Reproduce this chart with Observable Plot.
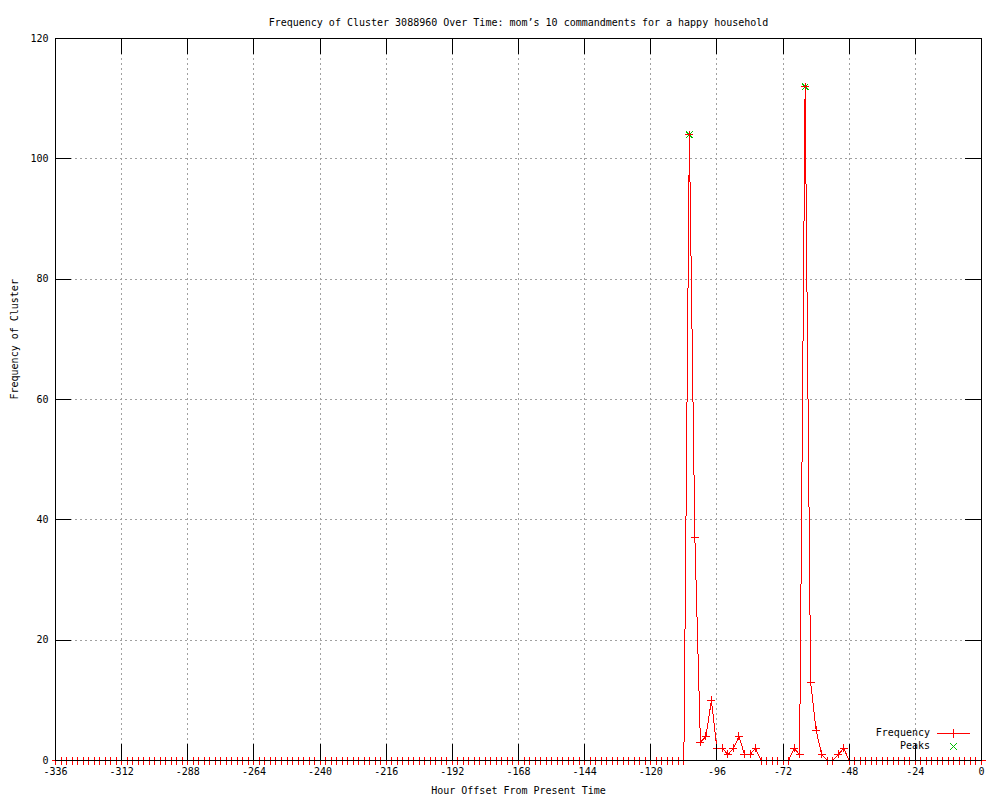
<!DOCTYPE html>
<html>
<head>
<meta charset="utf-8">
<script src="https://cdn.jsdelivr.net/npm/d3@7"></script>
<script src="https://cdn.jsdelivr.net/npm/@observablehq/plot@0.6"></script>
<style>
  html, body { margin: 0; padding: 0; background: #fff; }
</style>
</head>
<body>
<div id="chart"></div>
<script>
// ---- data ----
const titleText = "Frequency of Cluster 3088960 Over Time: mom’s 10 commandments for a happy household";
const xLabel = "Hour Offset From Present Time";
const yLabel = "Frequency of Cluster";
const seriesNames = ["Frequency", "Peaks"];

// hour offsets, every 2 hours from -336 to 0
const hours = d3.range(-336, 1, 2);
// frequency per 2-hour step (one row = 24 hours)
const frequency = [
  0,0,0,0,0,0,0,0,0,0,0,0,          // -336 .. -314
  0,0,0,0,0,0,0,0,0,0,0,0,          // -312 .. -290
  0,0,0,0,0,0,0,0,0,0,0,0,          // -288 .. -266
  0,0,0,0,0,0,0,0,0,0,0,0,          // -264 .. -242
  0,0,0,0,0,0,0,0,0,0,0,0,          // -240 .. -218
  0,0,0,0,0,0,0,0,0,0,0,0,          // -216 .. -194
  0,0,0,0,0,0,0,0,0,0,0,0,          // -192 .. -170
  0,0,0,0,0,0,0,0,0,0,0,0,          // -168 .. -146
  0,0,0,0,0,0,0,0,0,0,0,0,          // -144 .. -122
  0,0,0,0,0,0,0,104,37,3,4,10,      // -120 .. -98
  2,2,1,2,4,1,1,2,0,0,0,0,          // -96 .. -74
  0,0,2,1,112,13,5,1,0,0,1,2,       // -72 .. -50
  0,0,0,0,0,0,0,0,0,0,0,0,          // -48 .. -26
  0,0,0,0,0,0,0,0,0,0,0,0,          // -24 .. -2
  0                                 // 0
];
const peakHours = [-106, -64];
const peakValues = [104, 112];

const xTicks = [-336,-312,-288,-264,-240,-216,-192,-168,-144,-120,-96,-72,-48,-24,0];
const yTicks = [0,20,40,60,80,100,120];

// ---- tables ----
const data = hours.map((h, i) => ({h, v: frequency[i]}));
const peaks = peakHours.map((h, i) => ({h, v: peakValues[i]}));

// ---- styles ----
const W = 1000, H = 800;
const mL = 55, mR = 19, mT = 38, mB = 40;
const plotW = W - mL - mR, plotH = H - mT - mB;
const tickLen = 16;
const red = "#ff0000", green = "#00c000", gridColor = "#a0a0a0";

const plusSym = {draw(ctx, size) { const r = Math.sqrt(size / Math.PI);
  ctx.moveTo(-r, 0); ctx.lineTo(r, 0); ctx.moveTo(0, -r); ctx.lineTo(0, r); }};
const timesSym = {draw(ctx, size) { const r = Math.sqrt(size / Math.PI) * 0.8;
  ctx.moveTo(-r, -r); ctx.lineTo(r, r); ctx.moveTo(-r, r); ctx.lineTo(r, -r); }};

const innerX = xTicks.slice(1, -1);
const innerY = yTicks.slice(1, -1);

// legend drawn inside the frame, bottom-right (gnuplot style)
function legendMark(index, scales, values, dims) {
  const right = dims.width - dims.marginRight;
  const bottom = dims.height - dims.marginBottom;
  const g = d3.create("svg:g").attr("font-family", "'DejaVu Sans Mono', monospace").attr("font-size", 10);
  const rows = [
    {name: seriesNames[0], dy: -27, kind: "line", color: red},
    {name: seriesNames[1], dy: -14, kind: "times", color: green}
  ];
  for (const r of rows) {
    const y = bottom + r.dy;
    const cx = right - 28;
    g.append("text").attr("x", right - 51).attr("y", y).attr("dy", "0.32em")
      .attr("text-anchor", "end").attr("fill", "#000").text(r.name);
    if (r.kind === "line") {
      g.append("path").attr("d", `M${cx - 16},${y + 0.5}H${cx + 17}M${cx + 0.5},${y - 4}V${y + 5}`)
        .attr("stroke", r.color).attr("fill", "none").attr("stroke-width", 1);
    } else {
      g.append("path").attr("d", `M${cx - 3},${y - 3}L${cx + 4},${y + 4}M${cx - 3},${y + 4}L${cx + 4},${y - 3}`)
        .attr("stroke", r.color).attr("fill", "none").attr("stroke-width", 1);
    }
  }
  return g.node();
}

const chart = Plot.plot({
  width: W, height: H,
  marginLeft: mL, marginRight: mR, marginTop: mT, marginBottom: mB,
  style: {fontFamily: "'DejaVu Sans Mono', monospace", fontSize: "10px", background: "#fff", color: "#000", shapeRendering: "crispEdges"},
  x: {domain: [-336, 0], axis: null},
  y: {domain: [0, 120], axis: null},
  marks: [
    // grid
    Plot.ruleX(innerX, {x: d => d, stroke: gridColor, strokeDasharray: "2,3", strokeWidth: 1}),
    Plot.ruleY(innerY, {y: d => d, stroke: gridColor, strokeDasharray: "2,3", strokeWidth: 1}),
    // data
    Plot.line(data, {x: "h", y: "v", stroke: red, strokeWidth: 1}),
    Plot.dot(peaks, {x: "h", y: "v", symbol: timesSym, r: 4, stroke: green, fill: "none", strokeWidth: 1}),
    Plot.dot(data, {x: "h", y: "v", symbol: plusSym, r: 4, stroke: red, fill: "none", strokeWidth: 1}),
    // frame
    Plot.frame({stroke: "#000", strokeWidth: 1}),
    // ticks (inward, mirrored)
    Plot.ruleX(xTicks, {x: d => d, insetTop: plotH - tickLen, stroke: "#000"}),
    Plot.ruleX(xTicks, {x: d => d, insetBottom: plotH - tickLen, stroke: "#000"}),
    Plot.ruleY(yTicks, {y: d => d, insetRight: plotW - tickLen, stroke: "#000"}),
    Plot.ruleY(yTicks, {y: d => d, insetLeft: plotW - tickLen, stroke: "#000"}),
    // tick labels
    Plot.text(xTicks, {x: d => d, frameAnchor: "bottom", dy: 14, text: d => String(d), fill: "#000"}),
    Plot.text(yTicks, {y: d => d, frameAnchor: "left", dx: -7, textAnchor: "end", text: d => String(d), fill: "#000"}),
    // title & axis labels
    Plot.text([titleText], {frameAnchor: "top", dy: -20, text: d => d, fill: "#000"}),
    Plot.text([xLabel], {frameAnchor: "bottom", dy: 33, text: d => d, fill: "#000"}),
    Plot.text([yLabel], {frameAnchor: "left", dx: -41, rotate: -90, text: d => d, fill: "#000"}),
    // legend
    legendMark
  ]
});
document.getElementById("chart").appendChild(chart);
</script>
</body>
</html>
